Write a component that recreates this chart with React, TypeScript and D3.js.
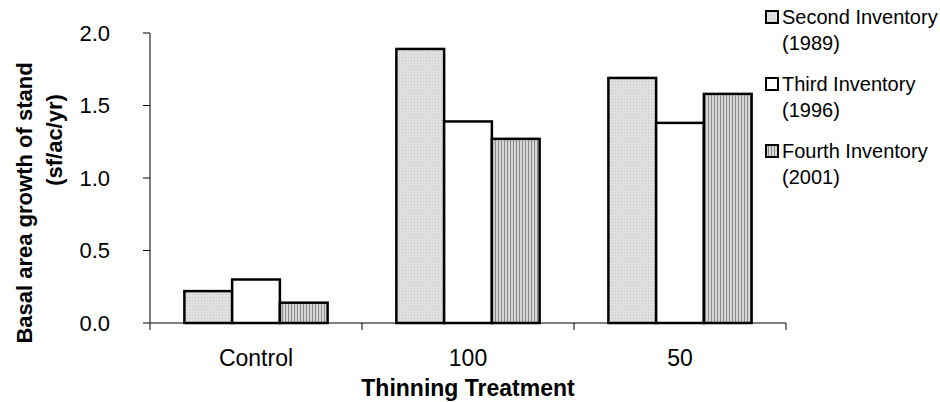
import React from "react";
import * as d3 from "d3";

const categories = ["Control", "100", "50"];
const seriesNames = ["Second Inventory", "Third Inventory", "Fourth Inventory"];
const seriesYears = ["(1989)", "(1996)", "(2001)"];
const secondInv = [0.22, 1.89, 1.69];
const thirdInv = [0.3, 1.39, 1.38];
const fourthInv = [0.14, 1.27, 1.58];
const yTicks = [0, 0.5, 1.0, 1.5, 2.0];

const seriesValues = [secondInv, thirdInv, fourthInv];
const fills = ["url(#pDots)", "#ffffff", "url(#pStripes)"];

export default function App() {
  const W = 940, H = 402;
  const left = 150, right = 786, top = 33, bottom = 323;
  const x = d3.scaleBand<string>().domain(categories).range([left, right]).paddingInner(0).paddingOuter(0);
  const xi = d3.scaleBand<string>().domain(seriesNames).range([0, x.bandwidth()]).paddingInner(0).paddingOuter(0.72);
  const y = d3.scaleLinear().domain([0, 2]).range([bottom, top]);
  const boundaries = [...categories.map((c) => x(c) as number), right];

  return (
    <svg width={W} height={H} style={{ position: "absolute", left: 0, top: 0, fontFamily: "Liberation Sans, Arial, sans-serif" }}>
      <defs>
        <pattern id="pDots" width="3" height="3" patternUnits="userSpaceOnUse">
          <rect width="3" height="3" fill="#e4e4e4" />
          <rect x="0" y="0" width="1" height="1" fill="#bdbdbd" />
          <rect x="1.5" y="1.5" width="1" height="1" fill="#cfcfcf" />
        </pattern>
        <pattern id="pStripes" width="3" height="3" patternUnits="userSpaceOnUse">
          <rect width="3" height="3" fill="#d6d6d6" />
          <rect x="0" y="0" width="1" height="3" fill="#8a8a8a" />
        </pattern>
      </defs>
      <rect width={W} height={H} fill="#ffffff" />

      {/* bars */}
      {categories.map((c, ci) =>
        seriesNames.map((s, si) => {
          const v = seriesValues[si][ci];
          const bx = (x(c) as number) + (xi(s) as number);
          return (
            <rect
              key={c + s}
              x={bx}
              y={y(v)}
              width={xi.bandwidth()}
              height={bottom - y(v)}
              fill={fills[si]}
              stroke="#000"
              strokeWidth={2.5}
            />
          );
        })
      )}

      {/* y axis */}
      <line x1={left} x2={left} y1={top} y2={bottom} stroke="#000" strokeWidth={1} />
      {yTicks.map((t) => (
        <g key={t}>
          <line x1={left - 7} x2={left} y1={y(t)} y2={y(t)} stroke="#000" strokeWidth={1} />
          <text x={110} y={y(t)} dy="0.35em" textAnchor="end" fontSize={22} fill="#000">
            {t.toFixed(1)}
          </text>
        </g>
      ))}

      {/* x axis */}
      <line x1={left} x2={right} y1={bottom} y2={bottom} stroke="#000" strokeWidth={1} />
      {boundaries.map((b, i) => (
        <line key={i} x1={b} x2={b} y1={bottom} y2={bottom + 7} stroke="#000" strokeWidth={1} />
      ))}
      {categories.map((c) => (
        <text key={c} x={(x(c) as number) + x.bandwidth() / 2} y={366} textAnchor="middle" fontSize={23} fill="#000">
          {c}
        </text>
      ))}
      <text x={(left + right) / 2} y={396} textAnchor="middle" fontSize={23} fontWeight="bold" fill="#000">
        Thinning Treatment
      </text>

      {/* y title */}
      <text transform={`translate(32,203) rotate(-90)`} textAnchor="middle" fontSize={22} fontWeight="bold" fill="#000">
        Basal area growth of stand
      </text>
      <text transform={`translate(62,140) rotate(-90)`} textAnchor="middle" fontSize={22} fontWeight="bold" fill="#000">
        (sf/ac/yr)
      </text>

      {/* legend */}
      {seriesNames.map((s, i) => {
        const by = 24 + 67 * i;
        return (
          <g key={s}>
            <rect x={766} y={by - 13} width={12} height={12} fill={fills[i]} stroke="#000" strokeWidth={2} />
            <text x={782} y={by} fontSize={20} fill="#000">{s}</text>
            <text x={782} y={by + 26} fontSize={20} fill="#000">{seriesYears[i]}</text>
          </g>
        );
      })}
    </svg>
  );
}
